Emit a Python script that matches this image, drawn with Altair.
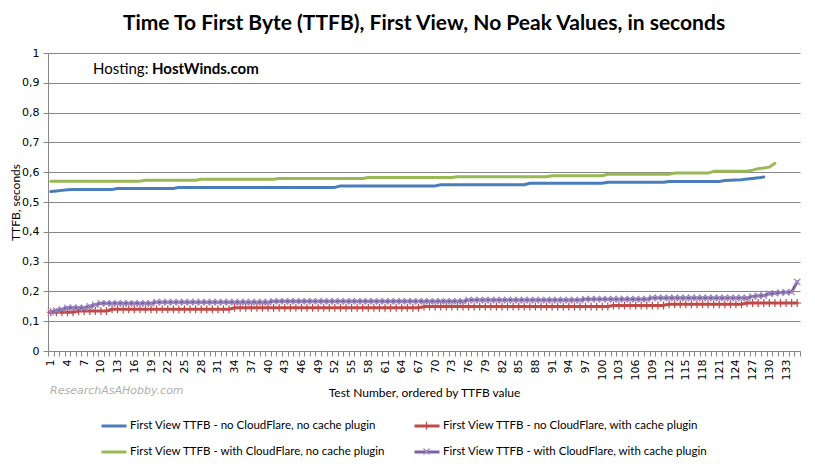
import altair as alt
import pandas as pd

series_names = [
    "First View TTFB - no CloudFlare, no cache plugin",
    "First View TTFB - no CloudFlare, with cache plugin",
    "First View TTFB - with CloudFlare, no cache plugin",
    "First View TTFB - with CloudFlare, with cache plugin",
]
colors = ["#4A7EBB", "#BE4B48", "#98B954", "#7D60A0"]
marker_colors = [None, "#BE4B48", None, "#9A88C0"]

blue = [
    0.535, 0.537, 0.539, 0.541, 0.542, 0.542, 0.542, 0.542, 0.542, 0.542,
    0.542, 0.542, 0.545, 0.545, 0.545, 0.545, 0.545, 0.545, 0.545, 0.545,
    0.545, 0.545, 0.545, 0.549, 0.549, 0.549, 0.549, 0.549, 0.549, 0.549,
    0.549, 0.549, 0.549, 0.549, 0.549, 0.549, 0.549, 0.549, 0.549, 0.549,
    0.549, 0.549, 0.549, 0.549, 0.549, 0.549, 0.549, 0.549, 0.549, 0.549,
    0.549, 0.549, 0.554, 0.554, 0.554, 0.554, 0.554, 0.554, 0.554, 0.554,
    0.554, 0.554, 0.554, 0.554, 0.554, 0.554, 0.554, 0.554, 0.554, 0.554,
    0.558, 0.558, 0.558, 0.558, 0.558, 0.558, 0.558, 0.558, 0.558, 0.558,
    0.558, 0.558, 0.558, 0.558, 0.558, 0.558, 0.563, 0.563, 0.563, 0.563,
    0.563, 0.563, 0.563, 0.563, 0.563, 0.563, 0.563, 0.563, 0.563, 0.563,
    0.566, 0.566, 0.566, 0.566, 0.566, 0.566, 0.566, 0.566, 0.566, 0.566,
    0.566, 0.569, 0.569, 0.569, 0.569, 0.569, 0.569, 0.569, 0.569, 0.569,
    0.569, 0.572, 0.573, 0.574, 0.575, 0.577, 0.579, 0.581, 0.584,
]

red = [
    0.130, 0.130, 0.130, 0.130, 0.130, 0.134, 0.134, 0.134, 0.134, 0.134,
    0.134, 0.140, 0.140, 0.140, 0.140, 0.140, 0.140, 0.140, 0.140, 0.140,
    0.140, 0.140, 0.140, 0.140, 0.140, 0.140, 0.140, 0.140, 0.140, 0.140,
    0.140, 0.140, 0.140, 0.145, 0.145, 0.145, 0.145, 0.145, 0.145, 0.145,
    0.145, 0.145, 0.145, 0.145, 0.145, 0.145, 0.145, 0.145, 0.145, 0.145,
    0.145, 0.145, 0.145, 0.145, 0.145, 0.145, 0.145, 0.145, 0.145, 0.145,
    0.145, 0.145, 0.145, 0.145, 0.145, 0.145, 0.145, 0.149, 0.149, 0.149,
    0.149, 0.149, 0.149, 0.149, 0.149, 0.149, 0.149, 0.149, 0.149, 0.149,
    0.149, 0.149, 0.149, 0.149, 0.149, 0.149, 0.149, 0.149, 0.149, 0.149,
    0.149, 0.149, 0.149, 0.149, 0.149, 0.149, 0.149, 0.149, 0.149, 0.149,
    0.149, 0.153, 0.153, 0.153, 0.153, 0.153, 0.153, 0.153, 0.153, 0.153,
    0.153, 0.157, 0.157, 0.157, 0.157, 0.157, 0.157, 0.157, 0.157, 0.157,
    0.157, 0.157, 0.157, 0.157, 0.157, 0.161, 0.161, 0.161, 0.161, 0.161,
    0.161, 0.161, 0.161, 0.161, 0.161,
]

green = [
    0.570, 0.570, 0.570, 0.570, 0.570, 0.570, 0.570, 0.570, 0.570, 0.570,
    0.570, 0.570, 0.570, 0.570, 0.570, 0.570, 0.570, 0.573, 0.573, 0.573,
    0.573, 0.573, 0.573, 0.573, 0.573, 0.573, 0.573, 0.576, 0.576, 0.576,
    0.576, 0.576, 0.576, 0.576, 0.576, 0.576, 0.576, 0.576, 0.576, 0.576,
    0.576, 0.579, 0.579, 0.579, 0.579, 0.579, 0.579, 0.579, 0.579, 0.579,
    0.579, 0.579, 0.579, 0.579, 0.579, 0.579, 0.579, 0.582, 0.582, 0.582,
    0.582, 0.582, 0.582, 0.582, 0.582, 0.582, 0.582, 0.582, 0.582, 0.582,
    0.582, 0.582, 0.582, 0.585, 0.585, 0.585, 0.585, 0.585, 0.585, 0.585,
    0.585, 0.585, 0.585, 0.585, 0.585, 0.585, 0.585, 0.585, 0.585, 0.585,
    0.588, 0.588, 0.588, 0.588, 0.588, 0.588, 0.588, 0.588, 0.588, 0.588,
    0.593, 0.593, 0.593, 0.593, 0.593, 0.593, 0.593, 0.593, 0.593, 0.593,
    0.593, 0.593, 0.597, 0.597, 0.597, 0.597, 0.597, 0.597, 0.597, 0.603,
    0.603, 0.603, 0.603, 0.603, 0.603, 0.603, 0.607, 0.612, 0.614, 0.617,
    0.630,
]

purple = [
    0.130, 0.136, 0.140, 0.145, 0.145, 0.145, 0.145, 0.150, 0.155, 0.160,
    0.160, 0.160, 0.160, 0.160, 0.160, 0.160, 0.160, 0.160, 0.160, 0.164,
    0.164, 0.164, 0.164, 0.164, 0.164, 0.164, 0.164, 0.164, 0.164, 0.164,
    0.164, 0.164, 0.164, 0.164, 0.164, 0.164, 0.164, 0.164, 0.164, 0.164,
    0.167, 0.167, 0.167, 0.167, 0.167, 0.167, 0.167, 0.167, 0.167, 0.167,
    0.167, 0.167, 0.167, 0.167, 0.167, 0.167, 0.167, 0.167, 0.167, 0.167,
    0.167, 0.167, 0.167, 0.167, 0.167, 0.167, 0.167, 0.167, 0.167, 0.167,
    0.167, 0.167, 0.167, 0.167, 0.167, 0.171, 0.171, 0.171, 0.171, 0.171,
    0.171, 0.171, 0.171, 0.171, 0.171, 0.171, 0.171, 0.171, 0.171, 0.171,
    0.171, 0.171, 0.171, 0.171, 0.171, 0.171, 0.174, 0.174, 0.174, 0.174,
    0.174, 0.174, 0.174, 0.174, 0.174, 0.174, 0.174, 0.174, 0.178, 0.178,
    0.178, 0.178, 0.178, 0.178, 0.178, 0.178, 0.178, 0.178, 0.178, 0.178,
    0.178, 0.178, 0.178, 0.178, 0.178, 0.178, 0.183, 0.185, 0.186, 0.192,
    0.194, 0.196, 0.197, 0.198, 0.232,
]

y_ticks = [0, 0.1, 0.2, 0.3, 0.4, 0.5, 0.6, 0.7, 0.8, 0.9, 1]
n_tests = 135
x_ticks = [k + 0.5 for k in range(n_tests + 1)]

rows = []
for name, vals in zip(series_names, [blue, red, green, purple]):
    for i, v in enumerate(vals, start=1):
        rows.append({"test": i, "ttfb": v, "series": name})
df = pd.DataFrame(rows)

FONT = "Lato"
GRAY = "#868686"

x_enc = alt.X(
    "test:Q",
    scale=alt.Scale(domain=[0.5, n_tests + 0.5], nice=False, zero=False),
    axis=alt.Axis(
        values=x_ticks,
        labelExpr="(datum.value - 0.5) % 3 == 0 && datum.value < 135 ? format(datum.value + 0.5, 'd') : ''",
        labelAngle=270,
        labelAlign="right",
        labelBaseline="middle",
        labelOffset=2.8,
        labelPadding=3,
        labelOverlap=False,
        labelFlush=False,
        labelBound=False,
        tickSize=5,
        grid=False,
        titleX=376,
        titleY=41,
        titleBaseline="middle",
        titleAlign="center",
    ),
    title="Test Number, ordered by TTFB value",
)
y_enc = alt.Y(
    "ttfb:Q",
    scale=alt.Scale(domain=[0, 1], nice=False),
    axis=alt.Axis(
        values=y_ticks,
        labelExpr="datum.value == 0 ? '0' : datum.value == 1 ? '1' : replace(format(datum.value, '.1f'), '.', ',')",
        grid=True,
        gridColor=GRAY,
        tickSize=5,
        labelPadding=4,
        titleX=-33,
        titleY=149,
        titleAngle=270,
        titleBaseline="middle",
        titleAlign="center",
    ),
    title="TTFB, seconds",
)

# legend grid slots (col, row) for each series
legend_slots = [(0, 0), (1, 0), (0, 1), (1, 1)]
LEG_X0, LEG_DX = 52, 313
LEG_Y0, LEG_DY = 359, 26
marker_paths_chart = [None, "M0,-1V1M-1,0H1", None, "M-1,-1L1,1M-1,1L1,-1"]
marker_paths_legend = [None, "M0,-0.32V0.32", None, "M-0.24,-0.24L0.24,0.24M-0.24,0.24L0.24,-0.24"]
marker_sizes = [None, 64, None, 40]

layers = []
for idx, name in enumerate(series_names):
    col, row = legend_slots[idx]
    lx = LEG_X0 + col * LEG_DX
    ly = LEG_Y0 + row * LEG_DY
    base = alt.Chart(df).transform_filter(alt.datum.series == name)
    line = base.mark_line(strokeWidth=3, strokeCap="round", strokeJoin="round").encode(
        x=x_enc,
        y=y_enc,
        color=alt.Color(
            "series:N",
            scale=alt.Scale(domain=[name], range=[colors[idx]]),
            legend=alt.Legend(
                title=None, orient="none", legendX=lx, legendY=ly,
                symbolType="stroke", symbolSize=625, symbolStrokeWidth=3,
                labelFont=FONT, labelFontSize=11.5, labelColor="#000000",
                labelLimit=500, labelOffset=2,
            ),
        ),
    )
    layers.append(line)
    if marker_paths_chart[idx]:
        pts = base.mark_point(
            shape=marker_paths_chart[idx], size=marker_sizes[idx], filled=False,
            strokeWidth=1.2, opacity=1,
        ).encode(
            x=x_enc,
            y=y_enc,
            color=alt.Color(
                "series:N",
                scale=alt.Scale(domain=[name], range=[marker_colors[idx]]),
                legend=alt.Legend(
                    title=None, orient="none", legendX=lx, legendY=ly,
                    symbolType=marker_paths_legend[idx], symbolSize=625, symbolStrokeWidth=1.2,
                    labelFont=FONT, labelFontSize=11.5, labelColor="#000000",
                    labelLimit=500, labelOffset=2, labelExpr="''", zindex=1,
                ),
            ),
        )
        layers.append(pts)

note_df = pd.DataFrame({"a": ["Hosting:"], "b": ["HostWinds.com"], "w": ["ResearchAsAHobby.com"]})
host1 = alt.Chart(note_df).mark_text(align="left", baseline="alphabetic", font="Lato", fontSize=15, color="#000").encode(
    x=alt.value(45), y=alt.value(21), text="a:N")
host2 = alt.Chart(note_df).mark_text(align="left", baseline="alphabetic", font="Lato", fontSize=15, fontWeight="bold", color="#000").encode(
    x=alt.value(104), y=alt.value(21), text="b:N")
water = alt.Chart(note_df).mark_text(align="left", baseline="middle", font="DejaVu Sans", fontSize=11, fontStyle="italic", color="#B0B0B0").encode(
    x=alt.value(2), y=alt.value(338), text="w:N")

chart = alt.layer(*layers, host1, host2, water).resolve_scale(color="independent").properties(
    width=752,
    height=298,
    autosize=alt.AutoSizeParams(type="none"),
    padding={"left": 40, "top": 45, "right": 7, "bottom": 112},
    title=alt.TitleParams(
        "Time To First Byte (TTFB), First View, No Peak Values, in seconds",
        font="Lato", fontSize=21, fontWeight="bold", color="#000", anchor="middle", offset=13,
    ),
).configure_view(stroke=None).configure_axis(
    labelFont="DejaVu Sans",
    labelFontSize=11,
    labelColor="#000000",
    titleFont=FONT,
    titleFontSize=12,
    titleFontWeight="normal",
    titleColor="#000000",
    domainColor=GRAY,
    tickColor=GRAY,
)

chart.save("out.html", embed_options={"renderer": "svg", "actions": False})
